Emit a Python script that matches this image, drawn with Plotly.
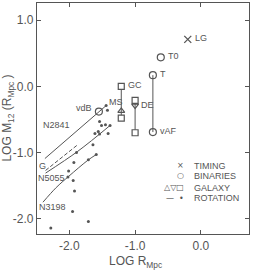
import plotly.graph_objects as go

INK = "#555555"
FONT = "Liberation Sans, Arial, sans-serif"

# Timing
timing_x = [-0.20]
timing_y = [0.71]
timing_lab = ["LG"]
# Binaries
bin_x = [-0.61, -0.73, -0.73, -1.55]
bin_y = [0.44, 0.17, -0.69, -0.38]
bin_lab = ["T0", "T", "vAF", "vdB"]
# Galaxy squares
sq_x = [-1.21, -1.21, -1.0, -1.0]
sq_y = [0.0, -0.48, -0.21, -0.70]
tri_up_x = [-1.21]
tri_up_y = [-0.37]
tri_dn_x = [-1.0]
tri_dn_y = [-0.29]
# vertical range bars
bar_x = [-1.21, -1.0, -0.73]
bar_lo = [-0.48, -0.70, -0.69]
bar_hi = [0.0, -0.21, 0.17]
# Rotation dots
rot_x = [-1.44, -1.42, -1.54, -1.51, -1.45, -1.61, -1.56, -1.54, -1.41, -1.38,
         -1.64, -1.89, -1.93, -2.01, -2.02, -1.94, -1.92, -1.95, -1.71, -2.28,
         -1.71, -1.59]
rot_y = [-0.29, -0.36, -0.53, -0.59, -0.58, -0.71, -0.68, -0.72, -0.71, -0.59,
         -0.88, -1.00, -1.15, -1.28, -1.37, -1.42, -1.58, -1.89, -2.04, -2.14,
         -1.11, -1.03]
# Rotation curves
n2841_x = [-2.37, -1.44]
n2841_y = [-1.09, -0.29]
g_x = [-2.36, -1.87]
g_y = [-1.27, -0.88]
n5055_x = [-2.36, -1.87, -1.38]
n5055_y = [-1.31, -0.98, -0.59]
n3198_x = [-2.40, -2.20, -2.01, -1.71, -1.59]
n3198_y = [-1.75, -1.53, -1.36, -1.11, -1.03]

fig = go.Figure()
line = dict(color=INK, width=1)
for x, lo, hi in zip(bar_x, bar_lo, bar_hi):
    fig.add_trace(go.Scatter(x=[x, x], y=[lo, hi], mode="lines", line=line))
fig.add_trace(go.Scatter(x=n2841_x, y=n2841_y, mode="lines", line=line))
fig.add_trace(go.Scatter(x=g_x, y=g_y, mode="lines", line=dict(color=INK, width=1, dash="4px,2px")))
fig.add_trace(go.Scatter(x=n5055_x, y=n5055_y, mode="lines", line=dict(color=INK, width=1, shape="spline")))
fig.add_trace(go.Scatter(x=n3198_x, y=n3198_y, mode="lines", line=dict(color=INK, width=1, shape="spline")))

fig.add_trace(go.Scatter(x=rot_x, y=rot_y, mode="markers",
                         marker=dict(symbol="circle", size=3, color=INK)))
fig.add_trace(go.Scatter(x=timing_x, y=timing_y, mode="markers",
                         marker=dict(symbol="x-thin", size=7, line=dict(color=INK, width=1.3))))
fig.add_trace(go.Scatter(x=bin_x, y=bin_y, mode="markers",
                         marker=dict(symbol="circle-open", size=7, color=INK, line=dict(width=1.2))))
fig.add_trace(go.Scatter(x=sq_x, y=sq_y, mode="markers",
                         marker=dict(symbol="square", size=6, color="white", line=dict(color=INK, width=1.2))))
fig.add_trace(go.Scatter(x=tri_up_x, y=tri_up_y, mode="markers",
                         marker=dict(symbol="triangle-up-open", size=6, color=INK, line=dict(width=1.2))))
fig.add_trace(go.Scatter(x=tri_dn_x, y=tri_dn_y, mode="markers",
                         marker=dict(symbol="triangle-down-open", size=6, color=INK, line=dict(width=1.2))))

lab_font = dict(family=FONT, size=9, color=INK)
labels = [
    (-0.20, 0.71, "LG", 5, "left"),
    (-0.61, 0.44, "T0", 5, "left"),
    (-0.73, 0.17, "T", 5, "left"),
    (-0.73, -0.69, "vAF", 5, "left"),
    (-1.21, 0.0, "GC", 5, "left"),
    (-1.0, -0.29, "DE", 4, "left"),
    (-1.55, -0.38, "vdB", -5, "right"),
    (-1.44, -0.29, "MS", 1, "left"),
]
for x, y, t, dx, anc in labels:
    fig.add_annotation(x=x, y=y, text=t, showarrow=False, xanchor=anc, yanchor="middle",
                       xshift=dx, yshift=1 if t not in ("vdB", "MS") else 4, font=lab_font)
for x, y, t in [(-2.20, -0.59, "N2841"), (-2.41, -1.20, "G"), (-2.27, -1.38, "N5055"),
                (-2.25, -1.82, "N3198")]:
    fig.add_annotation(x=x, y=y, text=t, showarrow=False, xanchor="center", yanchor="middle",
                       font=lab_font)

# legend as text
leg_font = dict(family=FONT, size=9, color=INK)
leg_rows = [(-1.20, "×", "TIMING"), (-1.35, "○", "BINARIES"),
            (-1.53, "△▽□", "GALAXY"), (-1.69, "—  •", "ROTATION")]
for y, sym, t in leg_rows:
    fig.add_annotation(x=-0.14, y=y, text=t, showarrow=False, xanchor="left", yanchor="middle",
                       font=leg_font)
    fig.add_annotation(x=-0.22, y=y, text=sym, showarrow=False, xanchor="right", yanchor="middle",
                       font=dict(family="DejaVu Sans", size=8, color=INK))

fig.add_annotation(xref="x", yref="paper", x=-1.0, y=-0.08, text="LOG R<sub>Mpc</sub>",
                   showarrow=False, font=dict(family=FONT, size=12, color=INK),
                   xanchor="center", yanchor="top")
fig.add_annotation(xref="paper", yref="y", x=-0.135, y=-0.48,
                   text="LOG M<sub>12</sub> (R<sub>Mpc</sub> )", textangle=-90,
                   showarrow=False, font=dict(family=FONT, size=12, color=INK),
                   xanchor="center", yanchor="middle")

axis_common = dict(showline=True, linecolor=INK, linewidth=1.2, mirror="ticks",
                   ticks="inside", ticklen=4, tickcolor=INK, showgrid=False, zeroline=False,
                   tickfont=dict(family=FONT, size=12, color=INK))
fig.update_xaxes(range=[-2.49, 0.73], tickvals=[-2, -1, 0], ticktext=["-2.0", "-1.0", "0.0"],
                 **axis_common)
fig.update_yaxes(range=[-2.23, 1.26], tickvals=[-2, -1, 0, 1],
                 ticktext=["-2.0", "-1.0", "0.0", "1.0"], **axis_common)
fig.update_layout(width=253, height=271, margin=dict(l=37, r=4, t=3, b=37),
                  paper_bgcolor="white", plot_bgcolor="white", showlegend=False)
fig.write_html("out.html")
